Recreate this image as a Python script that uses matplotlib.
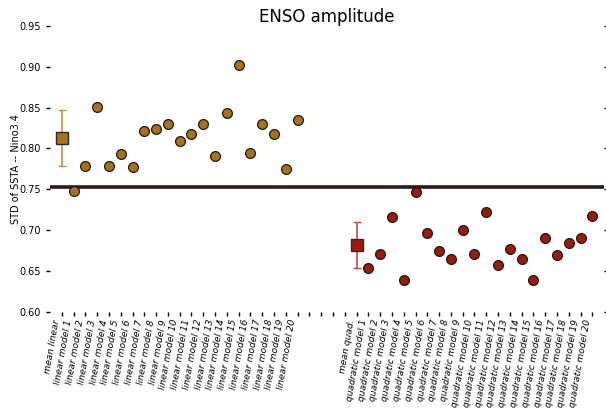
import matplotlib
matplotlib.use("Agg")
from matplotlib import pyplot as plt
import numpy as np

# --- valores ---
media_lineal = 0.813
error_lineal = [0.034, 0.034]
modelos_lineales = [0.748, 0.778, 0.851, 0.778, 0.793, 0.777, 0.822, 0.824, 0.830, 0.809,
                    0.818, 0.830, 0.791, 0.843, 0.902, 0.794, 0.830, 0.818, 0.775, 0.835]

media_cuad = 0.682
error_cuad = [0.028, 0.028]
modelos_cuad = [0.654, 0.671, 0.716, 0.639, 0.747, 0.696, 0.675, 0.665, 0.700, 0.671,
                0.722, 0.657, 0.677, 0.665, 0.639, 0.691, 0.670, 0.684, 0.691, 0.717]

observacion = 0.753

etiquetas = (["mean linear"] + ["linear model %d" % i for i in range(1, 21)]
             + ["", "", "", ""]
             + ["mean quad."] + ["quadratic model %d" % i for i in range(1, 21)])

col_lin = "#a8711a"
col_cuad = "#9e1a08"

fig = plt.figure(figsize=(6.06, 4.11), dpi=100)
ax = fig.add_axes([0.0825, 0.241, 0.9145, 0.696])

x_lin = np.arange(1, 21)
x_cuad = np.arange(26, 46)

ax.axhline(observacion, color="#2b1b1b", linewidth=2.6, zorder=1)

ax.errorbar([0], [media_lineal], yerr=[[error_lineal[0]], [error_lineal[1]]], fmt="s",
            color=col_lin, ecolor="#c8903e", mec="#2a2a2a", ms=9, capsize=3, elinewidth=1.2, zorder=3)
ax.scatter(x_lin, modelos_lineales, s=50, color=col_lin, edgecolor="#1a1a1a", linewidth=0.9, zorder=3)

ax.errorbar([25], [media_cuad], yerr=[[error_cuad[0]], [error_cuad[1]]], fmt="s",
            color=col_cuad, ecolor="#c44a4a", mec="#2a2a2a", ms=9, capsize=3, elinewidth=1.2, zorder=3)
ax.scatter(x_cuad, modelos_cuad, s=50, color=col_cuad, edgecolor="#1a1a1a", linewidth=0.9, zorder=3)

ax.set_xlim(-1, 46)
ax.set_ylim(0.60, 0.95)
ax.set_xticks(np.arange(len(etiquetas)))
ax.set_xticklabels(etiquetas, rotation=80, ha="right", fontsize=6.6, style="italic")
ax.set_yticks([0.60, 0.65, 0.70, 0.75, 0.80, 0.85, 0.90, 0.95])
ax.set_yticklabels(["0.60", "0.65", "0.70", "0.75", "0.80", "0.85", "0.90", "0.95"], fontsize=7)
ax.tick_params(axis="y", right=True, length=3, width=1)
ax.tick_params(axis="x", length=3, width=1, pad=2)
for s in ax.spines.values():
    s.set_visible(False)

ax.set_ylabel("STD of SSTA -- Nino3.4", fontsize=7, labelpad=-1.5)
ax.set_title("ENSO amplitude", fontsize=12, pad=2)

fig.savefig("out.png", dpi=100)
